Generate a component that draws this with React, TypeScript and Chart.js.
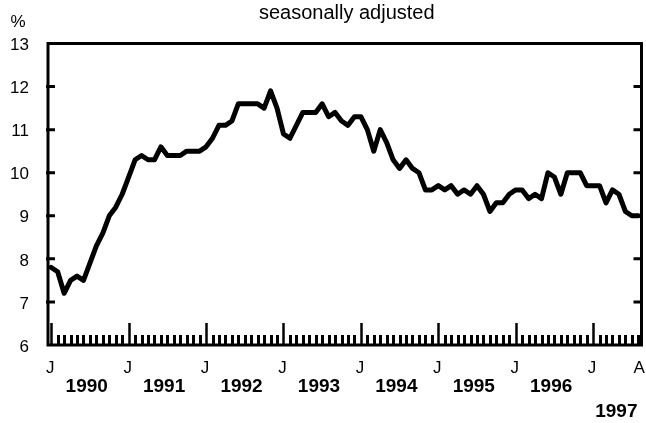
import React, { useEffect, useRef } from "react";
import { Chart, registerables } from "chart.js";

Chart.register(...registerables);

const values1990 = [7.8, 7.7, 7.2, 7.5, 7.6, 7.5, 7.9, 8.3, 8.6, 9.0, 9.2, 9.5];
const values1991 = [9.9, 10.3, 10.4, 10.3, 10.3, 10.6, 10.4, 10.4, 10.4, 10.5, 10.5, 10.5];
const values1992 = [10.6, 10.8, 11.1, 11.1, 11.2, 11.6, 11.6, 11.6, 11.6, 11.5, 11.9, 11.5];
const values1993 = [10.9, 10.8, 11.1, 11.4, 11.4, 11.4, 11.6, 11.3, 11.4, 11.2, 11.1, 11.3];
const values1994 = [11.3, 11.0, 10.5, 11.0, 10.7, 10.3, 10.1, 10.3, 10.1, 10.0, 9.6, 9.6];
const values1995 = [9.7, 9.6, 9.7, 9.5, 9.6, 9.5, 9.7, 9.5, 9.1, 9.3, 9.3, 9.5];
const values1996 = [9.6, 9.6, 9.4, 9.5, 9.4, 10.0, 9.9, 9.5, 10.0, 10.0, 10.0, 9.7];
const values1997 = [9.7, 9.7, 9.3, 9.6, 9.5, 9.1, 9.0, 9.0];

const yTicks = [6, 7, 8, 9, 10, 11, 12, 13];
const yearLabels = ["1990", "1991", "1992", "1993", "1994", "1995", "1996"];
const lastYearLabel = "1997";
const monthLabelJan = "J";
const monthLabelLast = "A";
const unitLabel = "%";
const titleText = "seasonally adjusted";

const allValues = [
  ...values1990, ...values1991, ...values1992, ...values1993,
  ...values1994, ...values1995, ...values1996, ...values1997,
];

const FONT = '"Liberation Sans", Arial, Helvetica, sans-serif';

const axesPlugin = {
  id: "customAxes",
  afterDatasetsDraw(chart: any) {
    const ctx = chart.ctx as CanvasRenderingContext2D;
    const xs = chart.scales.x;
    const ys = chart.scales.y;
    const { left, right, top, bottom } = chart.chartArea;
    ctx.save();
    ctx.strokeStyle = "#000";
    ctx.fillStyle = "#000";
    // border
    ctx.lineWidth = 3;
    ctx.strokeRect(left, top, right - left, bottom - top);
    // y ticks inward, both sides
    ctx.lineWidth = 3;
    yTicks.forEach((v) => {
      if (v === yTicks[0] || v === yTicks[yTicks.length - 1]) return;
      const y = ys.getPixelForValue(v);
      ctx.beginPath();
      ctx.moveTo(left - 2, y);
      ctx.lineTo(left + 7, y);
      ctx.moveTo(right + 1, y);
      ctx.lineTo(right - 8, y);
      ctx.stroke();
    });
    // x ticks: each month
    for (let i = 0; i < allValues.length; i++) {
      const x = Math.round(xs.getPixelForValue(i)) + 0.5;
      const major = i % 12 === 0;
      ctx.lineWidth = major ? 2.5 : 3;
      const len = major ? 22 : 10;
      ctx.beginPath();
      ctx.moveTo(x, bottom);
      ctx.lineTo(x, bottom - len);
      ctx.stroke();
    }
    // y labels
    ctx.font = `17px ${FONT}`;
    ctx.textAlign = "right";
    ctx.textBaseline = "middle";
    yTicks.forEach((v) => {
      const y = ys.getPixelForValue(v);
      ctx.fillText(String(v), 29, y + 2);
    });
    // unit
    ctx.textAlign = "center";
    ctx.fillText(unitLabel, 18, 22);
    // title
    ctx.font = `20px ${FONT}`;
    ctx.fillText(titleText, (left + right) / 2 + 2, 13);
    // month labels
    ctx.font = `17px ${FONT}`;
    for (let i = 0; i < allValues.length; i += 12) {
      ctx.fillText(monthLabelJan, xs.getPixelForValue(i) - 1, bottom + 23);
    }
    ctx.fillText(monthLabelLast, xs.getPixelForValue(allValues.length - 1) + 1, bottom + 23);
    // year labels
    ctx.font = `bold 19px ${FONT}`;
    yearLabels.forEach((lab, k) => {
      ctx.fillText(lab, xs.getPixelForValue(k * 12 + 5.5), bottom + 42);
    });
    ctx.textAlign = "right";
    ctx.fillText(lastYearLabel, right - 4, bottom + 67);
    ctx.restore();
  },
};

export default function App() {
  const ref = useRef<HTMLCanvasElement>(null);
  useEffect(() => {
    if (!ref.current) return;
    const chart = new Chart(ref.current, {
      type: "line",
      data: {
        labels: allValues.map((_, i) => i),
        datasets: [
          {
            data: allValues.map((v, i) => ({ x: i, y: v })),
            borderColor: "#000",
            borderWidth: 5,
            pointRadius: 0,
            tension: 0,
            fill: false,
            borderJoinStyle: "round",
            borderCapStyle: "round",
          },
        ],
      },
      options: {
        responsive: false,
        animation: false,
        layout: { padding: { left: 48, right: 4.5, top: 43.5, bottom: 78 } },
        plugins: { legend: { display: false }, tooltip: { enabled: false }, title: { display: false } },
        scales: {
          x: { type: "linear", min: -0.5, max: allValues.length - 0.5, display: false },
          y: { type: "linear", min: 6, max: 13, display: false },
        },
      },
      plugins: [axesPlugin],
    });
    return () => chart.destroy();
  }, []);
  return (
    <div style={{ position: "absolute", left: 0, top: 0, width: 646, height: 423, background: "#fff" }}>
      <canvas ref={ref} width={646} height={423} style={{ width: 646, height: 423 }} />
    </div>
  );
}
